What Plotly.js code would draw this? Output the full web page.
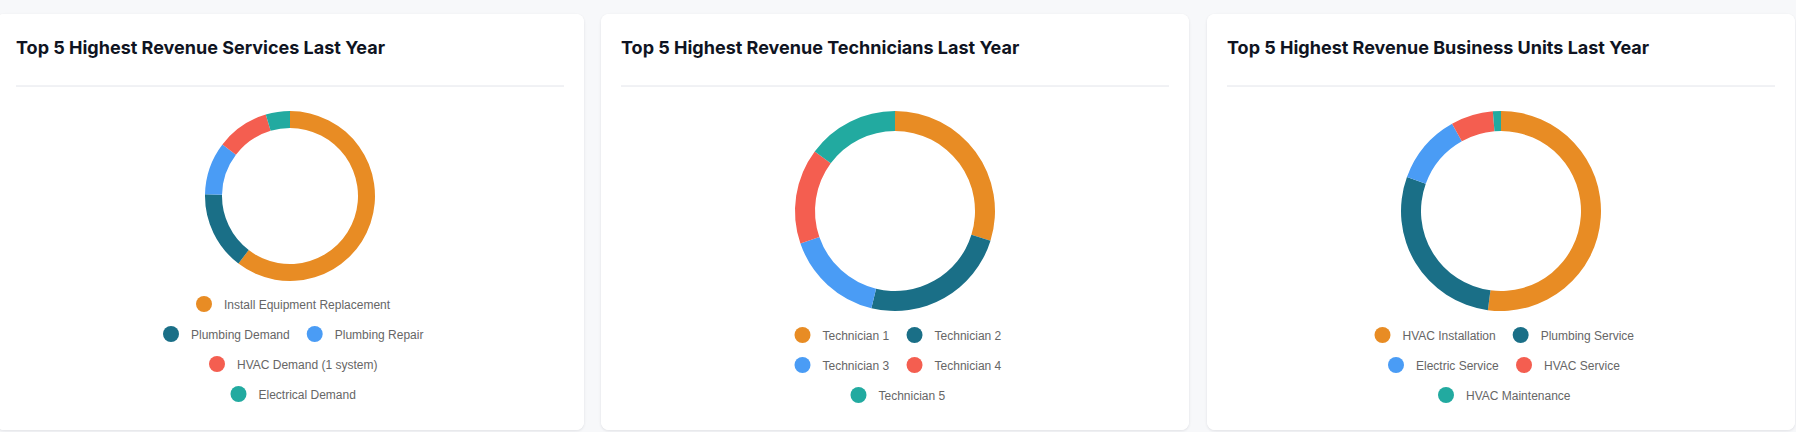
<!DOCTYPE html>
<html>
<head>
<meta charset="utf-8">
<script src="https://cdn.plot.ly/plotly-3.0.1.min.js"></script>
<style>
  html, body { margin: 0; padding: 0; background: #f7f8fa; width: 1796px; height: 432px; overflow: hidden; }
  .card { position: absolute; top: 14px; width: 588px; height: 416px; background: #ffffff;
          border-radius: 8px; box-shadow: 0 1px 3px rgba(16, 24, 40, 0.10); overflow: hidden; }
</style>
</head>
<body>
<div id="card1" class="card" style="left:-4px"></div>
<div id="card2" class="card" style="left:601px"></div>
<div id="card3" class="card" style="left:1207px"></div>
<script>
// ---- Data ----
const serviceTitle = 'Top 5 Highest Revenue Services Last Year';
const serviceLabels = ['Install Equipment Replacement', 'Plumbing Demand', 'Plumbing Repair', 'HVAC Demand (1 system)', 'Electrical Demand'];
const serviceRevenue = [1812000, 448000, 302000, 301000, 138000];

const technicianTitle = 'Top 5 Highest Revenue Technicians Last Year';
const technicianLabels = ['Technician 1', 'Technician 2', 'Technician 3', 'Technician 4', 'Technician 5'];
const technicianRevenue = [894000, 720000, 478000, 463000, 445000];

const unitTitle = 'Top 5 Highest Revenue Business Units Last Year';
const unitLabels = ['HVAC Installation', 'Plumbing Service', 'Electric Service', 'HVAC Service', 'HVAC Maintenance'];
const unitRevenue = [2605000, 1421000, 567000, 342000, 65000];

const sliceColors = ['#E88C24', '#1A6F87', '#4A9CF5', '#F45E50', '#22AAA0'];

// ---- Drawing ----
const W = 588, H = 416;

function drawCard(divId, title, labels, values, opts) {
  const traces = [{
    type: 'pie',
    labels: labels,
    values: values,
    hole: 0.8,
    sort: false,
    direction: 'clockwise',
    rotation: 0,
    textinfo: 'none',
    showlegend: false,
    marker: { colors: sliceColors, line: { width: 0 } },
    domain: { x: [0, 1], y: [1 - (opts.cy + opts.r) / H, 1 - (opts.cy - opts.r) / H] },
    hovertemplate: '%{label}: $%{value:,.0f}<extra></extra>'
  }];

  const layout = {
    width: W, height: H,
    margin: { l: 0, r: 0, t: 0, b: 0 },
    paper_bgcolor: '#ffffff',
    plot_bgcolor: 'rgba(0,0,0,0)',
    xaxis: { visible: false },
    yaxis: { visible: false },
    showlegend: true,
    title: {
      text: title,
      x: 20 / W, xanchor: 'left', xref: 'paper',
      y: 1 - 34 / H, yanchor: 'middle', yref: 'container',
      font: { family: 'Inter, "Open Sans", sans-serif', size: 18, color: '#0f1422', weight: 700 }
    },
    shapes: [{
      type: 'line', xref: 'paper', yref: 'paper',
      x0: 20 / W, x1: (W - 20) / W, y0: 1 - 72 / H, y1: 1 - 72 / H,
      line: { color: '#e2e4ea', width: 1 }
    }]
  };

  opts.rows.forEach((row, ri) => {
    const key = ri === 0 ? 'legend' : 'legend' + (ri + 1);
    layout[key] = {
      orientation: 'h', x: 0.5, xanchor: 'center',
      y: 1 - opts.rowY[ri] / H, yanchor: 'middle',
      bgcolor: 'rgba(0,0,0,0)', borderwidth: 0,
      itemsizing: 'trace', itemclick: false, itemdoubleclick: false,
      font: { family: '"Liberation Sans", Arial, Helvetica, sans-serif', size: 12, color: '#666666' }
    };
    row.forEach(i => {
      traces.push({
        type: 'scatter', x: [null], y: [null], mode: 'markers',
        name: labels[i], legend: key, showlegend: true, hoverinfo: 'skip',
        marker: { color: sliceColors[i], size: 16 }
      });
    });
  });

  Plotly.newPlot(divId, traces, layout, { displayModeBar: false, responsive: false });
}

drawCard('card1', serviceTitle, serviceLabels, serviceRevenue,
  { cy: 182, r: 85, rows: [[0], [1, 2], [3], [4]], rowY: [290, 320, 350, 380] });
drawCard('card2', technicianTitle, technicianLabels, technicianRevenue,
  { cy: 197, r: 100, rows: [[0, 1], [2, 3], [4]], rowY: [321, 351, 381] });
drawCard('card3', unitTitle, unitLabels, unitRevenue,
  { cy: 197, r: 100, rows: [[0, 1], [2, 3], [4]], rowY: [321, 351, 381] });
</script>
</body>
</html>
